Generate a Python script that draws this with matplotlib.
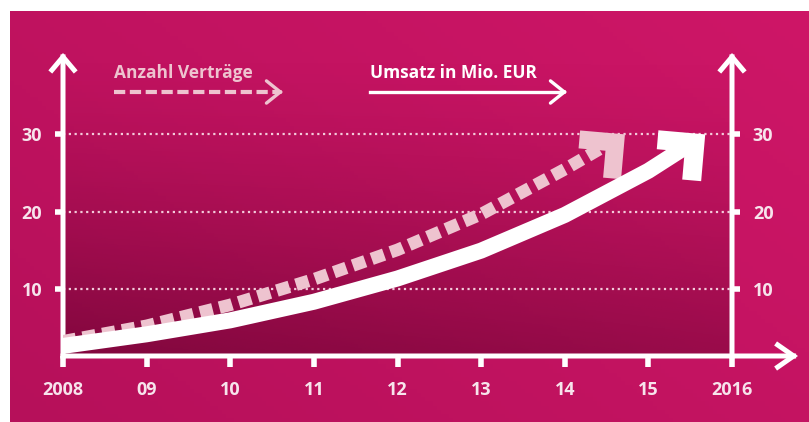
import numpy as np
import matplotlib
matplotlib.use("Agg")
import matplotlib.pyplot as plt
from matplotlib.lines import Line2D
from matplotlib.patches import FancyArrowPatch, Polygon
from matplotlib.transforms import Affine2D, ScaledTranslation

# values
years = [2008, 2009, 2010, 2011, 2012, 2013, 2014, 2015, 2016]
year_labels = ["2008", "09", "10", "11", "12", "13", "14", "15", "2016"]
y_ticks = [10, 20, 30]

# Umsatz in Mio. EUR (solid white arrow), last point = arrow tip
umsatz_x = [2008, 2009, 2010, 2011, 2012, 2013, 2014, 2015, 2015.68]
umsatz_y = [2.7, 4.2, 6.0, 8.4, 11.4, 15.0, 19.6, 25.3, 30.0]

# Anzahl Vertraege (dashed pink arrow), last point = arrow tip
vertrag_x = [2008, 2009, 2010, 2011, 2012, 2013, 2014, 2014.72]
vertrag_y = [3.3, 5.3, 8.0, 11.3, 15.1, 19.7, 25.5, 30.0]

W, H = 809, 422
BG_DARK = np.array([182, 16, 90]) / 255
BG_LIGHT = np.array([206, 22, 103]) / 255
PINK = "#EEC3CF"
LABEL = "#F7E4EC"
FONT = "Open Sans"

fig = plt.figure(figsize=(W / 100, H / 100), dpi=100, facecolor="white")

# magenta backdrop with white margin top/left
bg = fig.add_axes([10 / W, 0, 1 - 10 / W, 1 - 11 / H])
gx = np.linspace(0, 1, 200)[None, :]
gy = np.linspace(1, 0, 100)[:, None]
t = np.clip(0.6 * gx + 0.4 * gy, 0, 1)[..., None]
bg.imshow(BG_DARK * (1 - t) + BG_LIGHT * t, aspect="auto", extent=(0, 1, 0, 1))
bg.set_axis_off()

ax = fig.add_axes([63 / W, 66 / H, 669 / W, 303 / H])
ax.patch.set_alpha(0)

# dark shading inside the plot area
sx = np.linspace(0, 1, 200)[None, :]
sy = np.linspace(1, 0, 150)[:, None]
alpha = 0.58 * (1 - sy) ** 1.4 * (1 - 0.3 * sx)
shade = np.zeros((150, 200, 4))
shade[..., 0] = 90 / 255
shade[..., 2] = 40 / 255
shade[..., 3] = alpha
ax.imshow(shade, aspect="auto", extent=(0, 1, 0, 1), transform=ax.transAxes, zorder=0)

ax.set_xlim(2008, 2016)
ax.set_ylim(1.4, 40.5)
for s in ax.spines.values():
    s.set_visible(False)

ax.set_xticks(years)
ax.set_xticklabels(year_labels, fontfamily=FONT, fontweight="bold")
ax.set_yticks(y_ticks)
ax.set_yticklabels([str(v) for v in y_ticks], fontfamily=FONT, fontweight="bold")
ax.tick_params(axis="x", length=8, width=4, color="white", pad=10, labelsize=13, labelcolor=LABEL)
ax.tick_params(axis="y", length=6, width=4, color="white", pad=9, labelsize=13, labelcolor=LABEL,
               left=True, right=True, labelleft=True, labelright=True)
ax.set_axisbelow(True)
ax.yaxis.grid(True, color="#F3CADA", linestyle=(0, (1, 1.6)), lw=1.6)
ax.xaxis.grid(False)

# axis lines with chevron heads
def axis_arrow(start, end, hl, hw):
    ax.annotate("", xy=end, xytext=start, xycoords="axes fraction", annotation_clip=False,
                arrowprops=dict(arrowstyle="->,head_length=%s,head_width=%s" % (hl, hw),
                                mutation_scale=10, lw=3.6, color="white",
                                shrinkA=0, shrinkB=0, capstyle="projecting", joinstyle="miter"))

axis_arrow((0, 0), (0, 1), 0.95, 0.8)
axis_arrow((1, 0), (1, 1), 0.95, 0.8)
axis_arrow((0, 0), ((798 - 63) / 669, 0), 1.15, 0.8)


def curved_arrow(xs, ys, color, arm, thick, **line_kw):
    # shaft stops inside the head so its end does not poke out of the tip
    xs = list(xs)
    ys = list(ys)
    sx_ = xs[:-1] + [xs[-2] + 0.75 * (xs[-1] - xs[-2])]
    sy_ = ys[:-1] + [ys[-2] + 0.75 * (ys[-1] - ys[-2])]
    ax.plot(sx_, sy_, color=color, solid_joinstyle="round", **line_kw)
    # thick corner-shaped head (in inches), tip on the last data point
    head = [(0, 0), (-arm, 0), (-arm, -thick), (-thick, -thick), (-thick, -arm), (0, -arm)]
    tr = (Affine2D().rotate_deg(-5) + fig.dpi_scale_trans
          + ScaledTranslation(xs[-1], ys[-1], ax.transData))
    ax.add_patch(Polygon(head, closed=True, transform=tr, facecolor=color, edgecolor="none",
                         zorder=line_kw.get("zorder", 3)))


# Anzahl Vertraege
curved_arrow(vertrag_x, vertrag_y, PINK, 0.45, 0.18, lw=9, dashes=(1.05, 0.55),
             dash_capstyle="butt", zorder=3)

# Umsatz
curved_arrow(umsatz_x, umsatz_y, "white", 0.47, 0.19, lw=11.5, solid_capstyle="butt", zorder=4)

# legend-like headers
fig.text(114 / W, 1 - 73 / H, "Anzahl Verträge", color=PINK, fontsize=12.5,
         fontfamily=FONT, fontweight="bold", va="center", ha="left")
fig.text(370 / W, 1 - 73 / H, "Umsatz in Mio. EUR", color="white", fontsize=12.5,
         fontfamily=FONT, fontweight="bold", va="center", ha="left")

ly = 1 - 92 / H
fig.add_artist(Line2D([114 / W, 279 / W], [ly, ly], transform=fig.transFigure, color=PINK,
                      lw=3, dashes=(2.7, 1.1), dash_capstyle="butt"))
fig.add_artist(Line2D([370 / W, 562 / W], [ly, ly], transform=fig.transFigure, color="white",
                      lw=2.4))
for x_tip, col in ((283, PINK), (567, "white")):
    fig.add_artist(FancyArrowPatch(
        ((x_tip - 2) / W, ly), (x_tip / W, ly), transform=fig.transFigure,
        arrowstyle="->,head_length=1,head_width=0.8", mutation_scale=10, lw=2.4, color=col,
        shrinkA=0, shrinkB=0, capstyle="round", joinstyle="miter"))

fig.savefig("out.png", dpi=100, facecolor=fig.get_facecolor())
